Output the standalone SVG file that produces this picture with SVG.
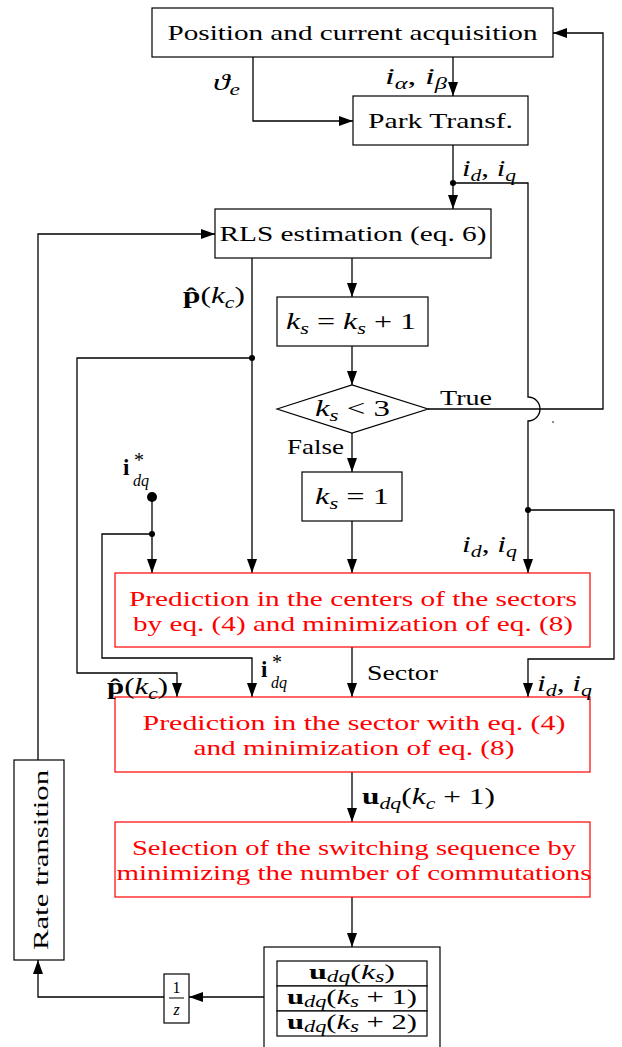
<svg xmlns="http://www.w3.org/2000/svg" width="622" height="1047" viewBox="0 0 622 1047">
<style>
.box{fill:#fff;stroke:#000;stroke-width:1.2}
.rbox{fill:#fff;stroke:#ff0000;stroke-width:1.2}
.w{fill:none;stroke:#000;stroke-width:1.3}
.wa{fill:none;stroke:#000;stroke-width:1.3;marker-end:url(#ah)}
text{font-family:"Liberation Serif","Times New Roman",serif;font-size:22px;fill:#000}
.m{font-size:23px}
.c{text-anchor:middle}
.red{fill:#ff0000}
.it{font-style:italic}
.b{font-weight:bold}
.sub{font-size:16px}
.star{font-size:20px}
</style>
<defs>
<marker id="ah" markerWidth="14" markerHeight="10" refX="14" refY="5" orient="auto" markerUnits="userSpaceOnUse">
<path d="M0,0 L14,5 L0,10 z" fill="#000"/>
</marker>
</defs>

<g id="connectors">
<polyline class="wa" points="253,57 253,121 353,121"/>
<line class="wa" x1="453" y1="57" x2="453" y2="96"/>
<line class="wa" x1="453" y1="145" x2="453" y2="209"/>
<circle cx="453" cy="183" r="3" fill="#000"/>
<path class="w" d="M453,183 H528 V397 A12,12 0 0 1 528,421 V510"/>
<line class="wa" x1="528" y1="510" x2="528" y2="573"/>
<circle cx="528" cy="510" r="3" fill="#000"/>
<polyline class="wa" points="528,510 614,510 614,659 528,659 528,697"/>
<line class="wa" x1="352" y1="258" x2="352" y2="297"/>
<line class="wa" x1="352" y1="346" x2="352" y2="385"/>
<polyline class="wa" points="428,409 603,409 603,33 553,33"/>
<circle cx="553" cy="422" r="0.8" fill="#000"/>
<line class="wa" x1="352" y1="433" x2="352" y2="472"/>
<line class="wa" x1="352" y1="521" x2="352" y2="573"/>
<line class="wa" x1="252" y1="258" x2="252" y2="573"/>
<circle cx="252" cy="358" r="3" fill="#000"/>
<polyline class="wa" points="252,358 77,358 77,673 177,673 177,697"/>
<circle cx="152" cy="497" r="5" fill="#000"/>
<line class="wa" x1="152" y1="497" x2="152" y2="573"/>
<circle cx="152" cy="534" r="3" fill="#000"/>
<polyline class="wa" points="152,534 102,534 102,658 252,658 252,697"/>
<line class="wa" x1="352" y1="647" x2="352" y2="697"/>
<line class="wa" x1="352" y1="772" x2="352" y2="822"/>
<line class="wa" x1="352" y1="897" x2="352" y2="947"/>
<line class="wa" x1="264" y1="997" x2="189" y2="997"/>
<polyline class="wa" points="164,997 38,997 38,960"/>
<polyline class="wa" points="38,760 38,234 215,234"/>
</g>

<g id="n-acq">
<rect class="box" x="152" y="8" width="401" height="49"/>
<text class="c" x="352.5" y="40" textLength="370" lengthAdjust="spacingAndGlyphs">Position and current acquisition</text>
</g>
<g id="n-park">
<rect class="box" x="353" y="96" width="175" height="49"/>
<text class="c" x="440.5" y="128" textLength="145" lengthAdjust="spacingAndGlyphs">Park Transf.</text>
</g>
<g id="n-rls">
<rect class="box" x="215" y="209" width="276" height="49"/>
<text class="c" x="353" y="241" textLength="267" lengthAdjust="spacingAndGlyphs">RLS estimation (eq. 6)</text>
</g>
<g id="n-ksinc">
<rect class="box" x="277" y="297" width="151" height="49"/>
<text class="m" x="286" y="329" textLength="130" lengthAdjust="spacingAndGlyphs"><tspan class="it">k</tspan><tspan class="sub it" dy="5">s</tspan><tspan dy="-5"> = </tspan><tspan class="it">k</tspan><tspan class="sub it" dy="5">s</tspan><tspan dy="-5"> + 1</tspan></text>
</g>
<g id="n-cond">
<polygon class="box" points="277,409 352,385 428,409 352,433"/>
<text class="m" x="315" y="416" textLength="75" lengthAdjust="spacingAndGlyphs"><tspan class="it">k</tspan><tspan class="sub it" dy="5">s</tspan><tspan dy="-5"> &lt; 3</tspan></text>
</g>
<g id="n-ks1">
<rect class="box" x="302" y="472" width="100" height="49"/>
<text class="m" x="315" y="504" textLength="74" lengthAdjust="spacingAndGlyphs"><tspan class="it">k</tspan><tspan class="sub it" dy="5">s</tspan><tspan dy="-5"> = 1</tspan></text>
</g>
<g id="n-pred1">
<rect class="rbox" x="115" y="573" width="475" height="74"/>
<text class="c red" x="353" y="606" textLength="448" lengthAdjust="spacingAndGlyphs">Prediction in the centers of the sectors</text>
<text class="c red" x="353" y="631" textLength="440" lengthAdjust="spacingAndGlyphs">by eq. (4) and minimization of eq. (8)</text>
</g>
<g id="n-pred2">
<rect class="rbox" x="115" y="697" width="475" height="75"/>
<text class="c red" x="354" y="730" textLength="423" lengthAdjust="spacingAndGlyphs">Prediction in the sector with eq. (4)</text>
<text class="c red" x="354" y="755" textLength="321" lengthAdjust="spacingAndGlyphs">and minimization of eq. (8)</text>
</g>
<g id="n-sel">
<rect class="rbox" x="115" y="822" width="475" height="75"/>
<text class="c red" x="354" y="855" textLength="444" lengthAdjust="spacingAndGlyphs">Selection of the switching sequence by</text>
<text class="c red" x="354" y="880" textLength="475" lengthAdjust="spacingAndGlyphs">minimizing the number of commutations</text>
</g>
<g id="n-out">
<rect class="box" x="264" y="947" width="176" height="120"/>
<rect class="box" x="277" y="961" width="150" height="25"/>
<rect class="box" x="277" y="986" width="150" height="25"/>
<rect class="box" x="277" y="1011" width="150" height="25"/>
<text x="309" y="979" textLength="86" lengthAdjust="spacingAndGlyphs"><tspan class="b">u</tspan><tspan class="sub it" dy="3">dq</tspan><tspan dy="-3">(</tspan><tspan class="it">k</tspan><tspan class="sub it" dy="3">s</tspan><tspan dy="-3">)</tspan></text>
<text x="287" y="1004" textLength="130" lengthAdjust="spacingAndGlyphs"><tspan class="b">u</tspan><tspan class="sub it" dy="3">dq</tspan><tspan dy="-3">(</tspan><tspan class="it">k</tspan><tspan class="sub it" dy="3">s</tspan><tspan dy="-3"> + 1)</tspan></text>
<text x="287" y="1029" textLength="130" lengthAdjust="spacingAndGlyphs"><tspan class="b">u</tspan><tspan class="sub it" dy="3">dq</tspan><tspan dy="-3">(</tspan><tspan class="it">k</tspan><tspan class="sub it" dy="3">s</tspan><tspan dy="-3"> + 2)</tspan></text>
</g>
<g id="n-delay">
<rect class="box" x="164" y="974" width="25" height="49"/>
<text class="c" x="176.5" y="993" style="font-size:16px">1</text>
<line x1="169" y1="998" x2="184" y2="998" stroke="#000" stroke-width="1"/>
<text class="c it" x="176.5" y="1015" style="font-size:16px">z</text>
</g>
<g id="n-rate">
<rect class="box" x="14" y="760" width="50" height="200"/>
<text class="c" x="0" y="0" transform="translate(48,860) rotate(-90)" textLength="180" lengthAdjust="spacingAndGlyphs">Rate transition</text>
</g>

<g id="labels">
<text class="m" x="213" y="90" textLength="27" lengthAdjust="spacingAndGlyphs"><tspan class="it">ϑ</tspan><tspan class="sub it" dy="5">e</tspan></text>
<text class="m" x="385" y="84" textLength="62" lengthAdjust="spacingAndGlyphs"><tspan class="it">i</tspan><tspan class="sub it" dy="5">α</tspan><tspan dy="-5">, </tspan><tspan class="it">i</tspan><tspan class="sub it" dy="5">β</tspan></text>
<text class="m" x="462" y="176" textLength="54" lengthAdjust="spacingAndGlyphs"><tspan class="it">i</tspan><tspan class="sub it" dy="5">d</tspan><tspan dy="-5">, </tspan><tspan class="it">i</tspan><tspan class="sub it" dy="5">q</tspan></text>
<text class="m" x="183" y="303" textLength="62" lengthAdjust="spacingAndGlyphs"><tspan class="b">p&#770;</tspan><tspan>(</tspan><tspan class="it">k</tspan><tspan class="sub it" dy="5">c</tspan><tspan dy="-5">)</tspan></text>
<text x="440" y="405" textLength="52" lengthAdjust="spacingAndGlyphs">True</text>
<text x="287" y="454" textLength="57" lengthAdjust="spacingAndGlyphs">False</text>
<g id="lbl-istar-top">
<text class="m b" x="123" y="475">i</text>
<text class="star" x="134" y="467">*</text>
<text class="sub it" x="133" y="486">dq</text>
</g>
<text class="m" x="462" y="552" textLength="55" lengthAdjust="spacingAndGlyphs"><tspan class="it">i</tspan><tspan class="sub it" dy="5">d</tspan><tspan dy="-5">, </tspan><tspan class="it">i</tspan><tspan class="sub it" dy="5">q</tspan></text>
<text x="367" y="680" textLength="71" lengthAdjust="spacingAndGlyphs">Sector</text>
<text class="m" x="107" y="694" textLength="61" lengthAdjust="spacingAndGlyphs"><tspan class="b">p&#770;</tspan><tspan>(</tspan><tspan class="it">k</tspan><tspan class="sub it" dy="5">c</tspan><tspan dy="-5">)</tspan></text>
<g id="lbl-istar-low">
<text class="m b" x="261" y="677">i</text>
<text class="star" x="272" y="669">*</text>
<text class="sub it" x="271" y="688">dq</text>
</g>
<text class="m" x="537" y="691" textLength="55" lengthAdjust="spacingAndGlyphs"><tspan class="it">i</tspan><tspan class="sub it" dy="5">d</tspan><tspan dy="-5">, </tspan><tspan class="it">i</tspan><tspan class="sub it" dy="5">q</tspan></text>
<text class="m" x="362" y="804" textLength="133" lengthAdjust="spacingAndGlyphs"><tspan class="b">u</tspan><tspan class="sub it" dy="5">dq</tspan><tspan dy="-5">(</tspan><tspan class="it">k</tspan><tspan class="sub it" dy="5">c</tspan><tspan dy="-5"> + 1)</tspan></text>
</g>
</svg>
